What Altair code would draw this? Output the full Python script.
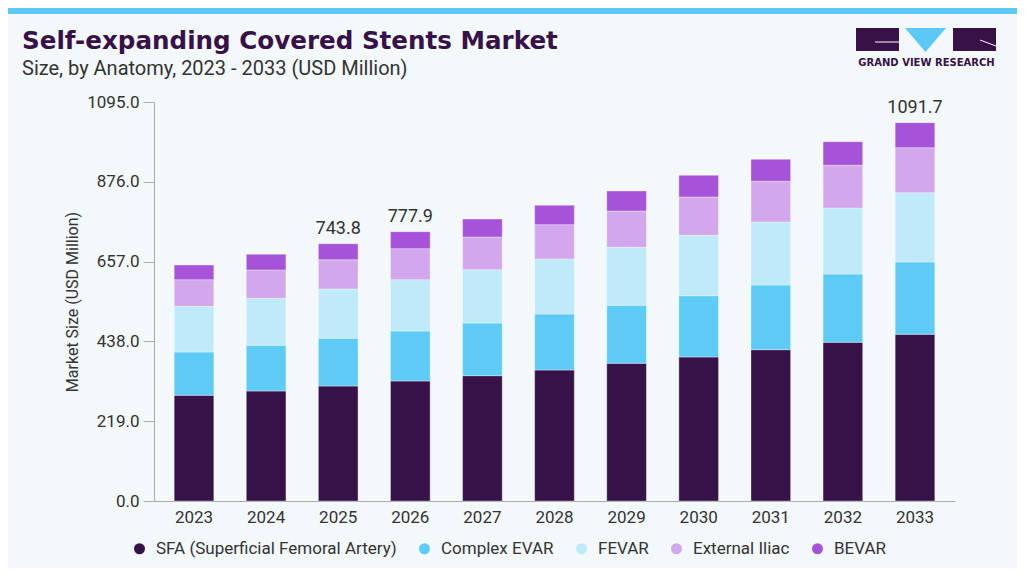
import pandas as pd
import altair as alt


# ── Data ──────────────────────────────────────────────────────────────────────

YEARS = [2023, 2024, 2025, 2026, 2027, 2028, 2029, 2030, 2031, 2032, 2033]

SEGMENTS = [
    'SFA (Superficial Femoral Artery)',
    'Complex EVAR',
    'FEVAR',
    'External Iliac',
    'BEVAR',
]
COLORS = ['#371248', '#5ECBF6', '#BEEAF9', '#D3A7EC', '#A653D9']

SFA            = [290.1, 301.9, 315.6, 329.3, 343.9, 359.5, 377.9, 395.2, 415.2, 435.5, 457.5]
COMPLEX_EVAR   = [118.8, 125.4, 130.9, 137.2, 144.6, 153.7, 159.2, 168.2, 177.6, 187.4, 198.4]
FEVAR          = [125.4, 129.0, 135.3, 140.8, 146.3, 150.9, 159.2, 165.8, 172.9, 181.1, 190.2]
EXTERNAL_ILIAC = [73.0, 77.7, 80.4, 85.1, 89.7, 94.1, 99.6, 105.1, 111.7, 117.2, 123.5]
BEVAR          = [40.3, 43.1, 43.9, 46.7, 49.4, 53.2, 54.9, 59.6, 60.4, 64.8, 68.6]

LABEL_YEARS = [2025, 2026, 2033]
LABEL_TEXT  = ['743.8', '777.9', '1091.7']

Y_TICKS = [0, 219, 438, 657, 876, 1095]

TEXT_COLOR = '#333333'
TITLE_COLOR = '#371148'
AXIS_COLOR = '#AAAAAA'
FONT = 'Roboto'

W, H = 801, 399
PAD = dict(left=146, top=94, right=62, bottom=67)


# ── Long table ─────────────────────────────────────────────────────────────────

series = [SFA, COMPLEX_EVAR, FEVAR, EXTERNAL_ILIAC, BEVAR]
rows = []
for rank, (name, vals) in enumerate(zip(SEGMENTS, series)):
    for year, v in zip(YEARS, vals):
        rows.append({'year': year, 'segment': name, 'value': v, 'rank': rank})
df = pd.DataFrame(rows)

totals = df.groupby('year', as_index=False)['value'].sum()
labels = totals[totals['year'].isin(LABEL_YEARS)].copy()
labels['text'] = labels['year'].map(dict(zip(LABEL_YEARS, LABEL_TEXT)))


# ── Layers ─────────────────────────────────────────────────────────────────────

x_enc = alt.X(
    'year:O', title=None,
    scale=alt.Scale(paddingInner=0.45, paddingOuter=0.28),
    axis=alt.Axis(labelAngle=0, ticks=False, labelPadding=8, domainColor=AXIS_COLOR),
)

bars = alt.Chart(df).mark_bar(stroke='#FFFFFF', strokeWidth=0.8, strokeOpacity=0.45).encode(
    x=x_enc,
    y=alt.Y(
        'value:Q', stack='zero',
        scale=alt.Scale(domain=[0, 1095], nice=False),
        axis=alt.Axis(
            values=Y_TICKS, format='.1f', grid=False, tickSize=11,
            tickColor=AXIS_COLOR, domainColor=AXIS_COLOR, labelPadding=4,
            title='Market Size (USD Million)', titlePadding=6,
        ),
    ),
    color=alt.Color(
        'segment:N',
        scale=alt.Scale(domain=SEGMENTS, range=COLORS),
        legend=alt.Legend(title=None, orient='none', legendX=-23, legendY=438,
                          direction='horizontal'),
    ),
    order=alt.Order('rank:Q', sort='ascending'),
)

total_text = alt.Chart(labels).mark_text(
    dy=-10, baseline='alphabetic', fontSize=18, font=FONT, color=TEXT_COLOR,
).encode(x='year:O', y='value:Q', text='text:N')


def text_layer(text, x, y, **kw):
    return alt.Chart(pd.DataFrame({'t': [text]})).mark_text(**kw).encode(
        x=alt.value(x), y=alt.value(y), text='t:N'
    )


def rect_layer(x, x2, y, y2, color):
    return alt.Chart(pd.DataFrame({'k': [0]})).mark_rect(color=color).encode(
        x=alt.value(x), x2=alt.value(x2), y=alt.value(y), y2=alt.value(y2)
    )


stripe = rect_layer(-PAD['left'], W + PAD['right'], -PAD['top'], -PAD['top'] + 6, '#5BC8F5')

title = text_layer(
    'Self-expanding Covered Stents Market', -132, -53,
    align='left', baseline='alphabetic', font='DejaVu Sans', fontWeight='bold',
    fontSize=24.6, color=TITLE_COLOR,
)
subtitle = text_layer(
    'Size, by Anatomy, 2023 - 2033 (USD Million)', -132, -27,
    align='left', baseline='alphabetic', font=FONT, fontSize=20, color=TEXT_COLOR,
)

# logo
logo_left = rect_layer(702, 745, -74, -51, TITLE_COLOR)
logo_right = rect_layer(799, 842, -74, -51, TITLE_COLOR)
logo_tri = alt.Chart(pd.DataFrame({'k': [0]})).mark_point(
    shape='M-1,-0.585L1,-0.585L0,0.585Z', filled=True, opacity=1,
    color='#5BC8F5', size=1681,
).encode(x=alt.value(771.5), y=alt.value(-62))
logo_line1 = alt.Chart(pd.DataFrame({'k': [0]})).mark_rule(color='#FFFFFF', strokeWidth=1).encode(
    x=alt.value(721), x2=alt.value(745), y=alt.value(-60), y2=alt.value(-60)
)
logo_line2 = alt.Chart(pd.DataFrame({'k': [0]})).mark_rule(color='#FFFFFF', strokeWidth=1).encode(
    x=alt.value(826), x2=alt.value(842), y=alt.value(-62), y2=alt.value(-56)
)
logo_text = text_layer(
    'GRAND VIEW RESEARCH', 772.5, -39,
    align='center', baseline='middle', font='DejaVu Sans', fontWeight='bold',
    fontSize=10, color=TITLE_COLOR,
)

chart = (
    alt.layer(
        stripe, bars, total_text, title, subtitle,
        logo_left, logo_right, logo_tri, logo_line1, logo_line2, logo_text,
    )
    .properties(
        width=W, height=H,
        autosize=alt.AutoSizeParams(type='none'),
        padding=PAD,
        background='#F3F8FB',
    )
    .configure_view(stroke=None)
    .configure_axis(
        labelFont=FONT, labelFontSize=17, labelColor=TEXT_COLOR,
        titleFont=FONT, titleFontSize=16, titleFontWeight='normal', titleColor=TEXT_COLOR,
    )
    .configure_legend(
        symbolType='circle', symbolSize=121, symbolStrokeWidth=0, symbolOpacity=1,
        labelFont=FONT, labelFontSize=17, labelColor=TEXT_COLOR, labelOffset=8,
        columnPadding=19, padding=0, labelLimit=400,
    )
)

chart.save('out.html', embed_options={'renderer': 'svg', 'actions': False})
